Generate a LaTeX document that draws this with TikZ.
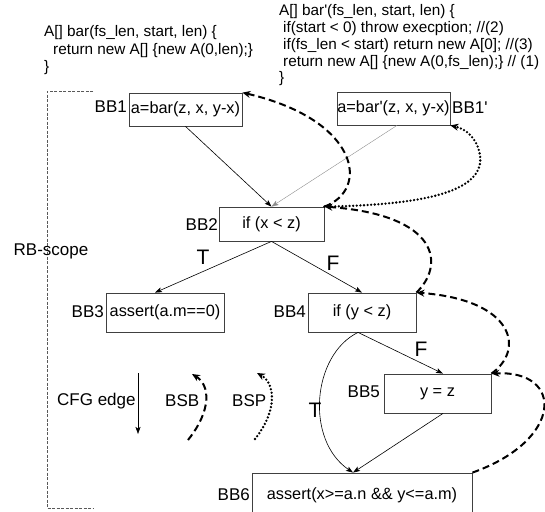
\documentclass[tikz,border=0pt]{standalone}
\usepackage{fontspec}
\setmainfont{Liberation Sans}
\usetikzlibrary{arrows.meta}
\begin{document}
\begin{tikzpicture}[x=1pt,y=-1pt,
  bbox/.style={draw=black!75, line width=0.8pt, inner sep=0pt, font=\fontsize{16.3}{18}\selectfont},
  lbl/.style={font=\fontsize{17}{19}\selectfont, inner sep=0pt},
  tf/.style={font=\fontsize{21}{23}\selectfont, inner sep=0pt},
  code/.style={font=\fontsize{15.3}{17}\selectfont, inner sep=0pt, anchor=base west},
  cfg/.style={-{Stealth[length=7pt,width=5pt,inset=1.5pt]}, line width=0.6pt},
  bsb/.style={line width=2pt, dash pattern=on 7pt off 4pt, -{Stealth[length=8pt,width=7pt]}},
  bsp/.style={line width=2.6pt, line cap=round, dash pattern=on 0pt off 3.6pt, -{Stealth[length=8pt,width=7pt]}},
  scope/.style={draw=black!65, line width=0.5pt, dash pattern=on 3pt off 1.5pt}]
\useasboundingbox (0,0) rectangle (545,511);

% code blocks
\node[code] (c1) at (44,37) {A[] bar(fs\_len, start, len) \{};
\node[code] (c2) at (53,54) {return new A[] \{new A(0,len);\}};
\node[code] (c3) at (44,71) {\}};
\node[code] (d1) at (279,16) {A[] bar\textquotesingle(fs\_len, start, len) \{};
\node[code] (d2) at (283,33) {if(start < 0) throw execption; //(2)};
\node[code] (d3) at (283,49.5) {if(fs\_len < start) return new A[0]; //(3)};
\node[code] (d4) at (283,66) {return new A[] \{new A(0,fs\_len);\} // (1)};
\node[code] (d5) at (279,82.5) {\}};

% boxes
\node[bbox, minimum width=113, minimum height=33] (bb1) at (185.5,109.5) {a=bar(z, x, y-x)};
\node[bbox, minimum width=113, minimum height=33] (bb1p) at (393.5,108.5) {a=bar\textquotesingle(z, x, y-x)};
\node[bbox, minimum width=105, minimum height=34] (bb2) at (271.5,224) {if (x < z)};
\node[bbox, minimum width=118, minimum height=39] (bb3) at (165,312.5) {assert(a.m==0)};
\node[bbox, minimum width=108, minimum height=39] (bb4) at (362,312.5) {if (y < z)};
\node[bbox, minimum width=107, minimum height=39] (bb5) at (437.5,393.5) {y = z};
\node[bbox, minimum width=220, minimum height=44] (bb6) at (362,495) {assert(x>=a.n \&\& y<=a.m)};

% labels
\node[lbl, anchor=east] (l1) at (127,107) {BB1};
\node[lbl, anchor=west] (l1p) at (452,108) {BB1\textquotesingle};
\node[lbl, anchor=east] (l2) at (218,225) {BB2};
\node[lbl, anchor=east] (l3) at (104,312) {BB3};
\node[lbl, anchor=east] (l4) at (306,312) {BB4};
\node[lbl, anchor=east] (l5) at (380,392) {BB5};
\node[lbl, anchor=east] (l6) at (250,495) {BB6};

% CFG edges
\draw[cfg] (bb1.south) -- (bb2.north);
\draw[cfg, draw=black!45, line width=0.4pt] ([xshift=3.5pt]bb1p.south) -- (bb2.north);
\draw[cfg] (bb2.south) -- ([xshift=-10pt]bb3.north);
\draw[cfg] (bb2.south) -- (bb4.north);
\draw[cfg] ([xshift=-4pt]bb4.south) -- ([xshift=5.5pt]bb5.north);
\draw[cfg] ([xshift=-4pt]bb4.south) .. controls (312,355) and (305,440) .. ([xshift=-9pt]bb6.north);
\draw[cfg] ([xshift=5.5pt]bb5.south) -- ([xshift=-9pt]bb6.north);

\node[tf] (t1) at (203,257) {T};
\node[tf] (f1) at (333,263) {F};
\node[tf] (f2) at (421,349) {F};
\node[tf] (t2) at (315,410) {T};

% BSB dashed
\draw[bsb] (bb2.north east) .. controls (370,190) and (360,120) .. (bb1.north east);
\draw[bsb] (bb4.north east) .. controls (445,265) and (440,215) .. (bb2.north east);
\draw[bsb] (bb5.north east) .. controls (525,350) and (515,300) .. (bb4.north east);
\draw[bsb] (bb6.north east) .. controls (564,440) and (564,370) .. (bb5.north east);

% BSP dotted
\draw[bsp] (bb2.north east) .. controls (430,205) and (485,190) .. (480,155) .. controls (477,138) and (466,129) .. (bb1p.south east);

% scope bracket
\coordinate (s1) at (93,91);
\coordinate (s2) at (47,91);
\coordinate (s3) at (47,508);
\coordinate (s4) at (93,508);
\draw[scope] (s1) -- (s2) -- (s3) -- (s4);
\node[lbl] (rb) at (51,251) {RB-scope};

% legend
\node[lbl, anchor=west] (lg1) at (57,401) {CFG edge};
\coordinate (a1) at (138,373);
\coordinate (a2) at (138,434);
\draw[cfg] (a1) -- (a2);
\node[lbl, anchor=west] (lg2) at (165,401) {BSB};
\coordinate (b1) at (188,440);
\coordinate (b2) at (192,374);
\draw[bsb] (b1) .. controls (212,410) and (210,385) .. (b2);
\node[lbl, anchor=west] (lg3) at (232,401) {BSP};
\coordinate (p1) at (255,439);
\coordinate (p2) at (257,373);
\draw[bsp] (p1) .. controls (278,410) and (275,383) .. (p2);
\end{tikzpicture}
\end{document}
